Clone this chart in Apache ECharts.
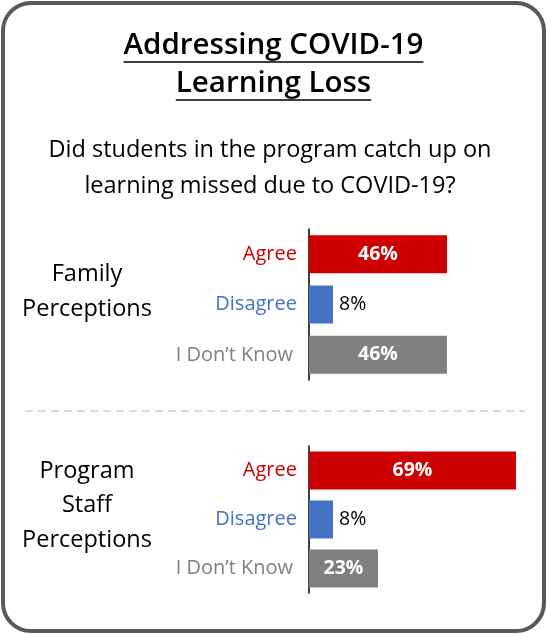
<!DOCTYPE html>
<html><head><meta charset="utf-8">
<script src="https://cdn.jsdelivr.net/npm/echarts@6/dist/echarts.min.js"></script>
<style>html,body{margin:0;padding:0;background:#fff}#c{width:547px;height:634px}</style>
</head><body><div id="c"></div>
<script>
const titleLines = ["Addressing COVID-19", "Learning Loss"];
const subtitleLines = ["Did students in the program catch up on", "learning missed due to COVID-19?"];
const categories = ["Agree", "Disagree", "I Don\u2019t Know"];
const groupLabels = [["Family", "Perceptions"], ["Program", "Staff", "Perceptions"]];
const familyValues = [46, 8, 46];
const staffValues = [69, 8, 23];

const FONT = '"Open Sans", "Noto Sans", sans-serif';
const catColors = ["#cc0000", "#4472c4", "#808080"];

const chart = echarts.init(document.getElementById('c'), null, {renderer: 'canvas'});

const ctx = document.createElement('canvas').getContext('2d');
function textW(t, size, weight) {
  ctx.font = (weight || 'normal') + ' ' + size + 'px ' + FONT;
  return ctx.measureText(t).width;
}

function buildData(vals) {
  return vals.map((v, i) => {
    const small = v < 15;
    return {
      value: v,
      itemStyle: {color: catColors[i]},
      label: small ? {position: 'right', color: '#000', fontWeight: 'normal', distance: 6}
                   : {position: 'inside', color: '#fff', fontWeight: 'bold'}
    };
  });
}

const grids = [
  {left: 309, width: 300, top: 229, height: 151, outerBoundsMode: 'none', containLabel: false},
  {left: 309, width: 300, top: 446, height: 147, outerBoundsMode: 'none', containLabel: false}
];

const xAxes = grids.map((g, i) => ({
  type: 'value', gridIndex: i, min: 0, max: 100, show: false
}));
const rich = {
  c0: {color: catColors[0], fontFamily: FONT, fontSize: 20},
  c1: {color: catColors[1], fontFamily: FONT, fontSize: 20},
  c2: {color: catColors[2], fontFamily: FONT, fontSize: 20, padding: [0, 4, 0, 0]}
};
const yAxes = grids.map((g, i) => ({
  type: 'category', gridIndex: i, data: categories, inverse: true,
  axisLine: {show: true, lineStyle: {color: '#000', width: 1.5}},
  axisTick: {show: false},
  axisLabel: {
    margin: 12, fontSize: 20, fontFamily: FONT,
    formatter: (val) => '{c' + categories.indexOf(val) + '|' + val + '}',
    rich: rich
  }
}));

const series = [familyValues, staffValues].map((vals, i) => ({
  type: 'bar', xAxisIndex: i, yAxisIndex: i, barWidth: 38,
  data: buildData(vals),
  label: {show: true, formatter: '{c}%', fontFamily: FONT, fontSize: 19.5},
  silent: true
}));

const graphics = [];
graphics.push({type: 'rect', shape: {x: 3, y: 3, width: 541, height: 628, r: 28},
  style: {fill: 'none', stroke: '#595959', lineWidth: 4}, z: 10});
const titleY = [46, 84];
const TSIZE = 29.5, TW = 600;
titleLines.forEach((t, i) => {
  graphics.push({type: 'text', x: 273.5, y: titleY[i],
    style: {text: t, font: TW + ' ' + TSIZE + 'px ' + FONT, fill: '#000', align: 'center', verticalAlign: 'middle'}});
  const w = textW(t, TSIZE, TW);
  graphics.push({type: 'line', shape: {x1: 273.5 - w / 2, y1: titleY[i] + 16, x2: 273.5 + w / 2, y2: titleY[i] + 16},
    style: {stroke: '#000', lineWidth: 1.5}});
});
const subY = [150, 186];
subtitleLines.forEach((t, i) => {
  graphics.push({type: 'text', x: 270, y: subY[i],
    style: {text: t, font: 'normal 23.5px ' + FONT, fill: '#000', align: 'center', verticalAlign: 'middle'}});
});
const groupY = [[274, 309], [471, 505, 540]];
groupLabels.forEach((lines, g) => {
  lines.forEach((t, j) => {
    graphics.push({type: 'text', x: 87, y: groupY[g][j],
      style: {text: t, font: 'normal 23.5px ' + FONT, fill: '#000', align: 'center', verticalAlign: 'middle'}});
  });
});
graphics.push({type: 'line', shape: {x1: 25, y1: 411, x2: 525, y2: 411},
  style: {stroke: '#d9d9d9', lineWidth: 2, lineDash: [8, 5]}});

chart.setOption({
  animation: false,
  grid: grids,
  xAxis: xAxes,
  yAxis: yAxes,
  series: series,
  graphic: graphics
});
</script></body></html>
